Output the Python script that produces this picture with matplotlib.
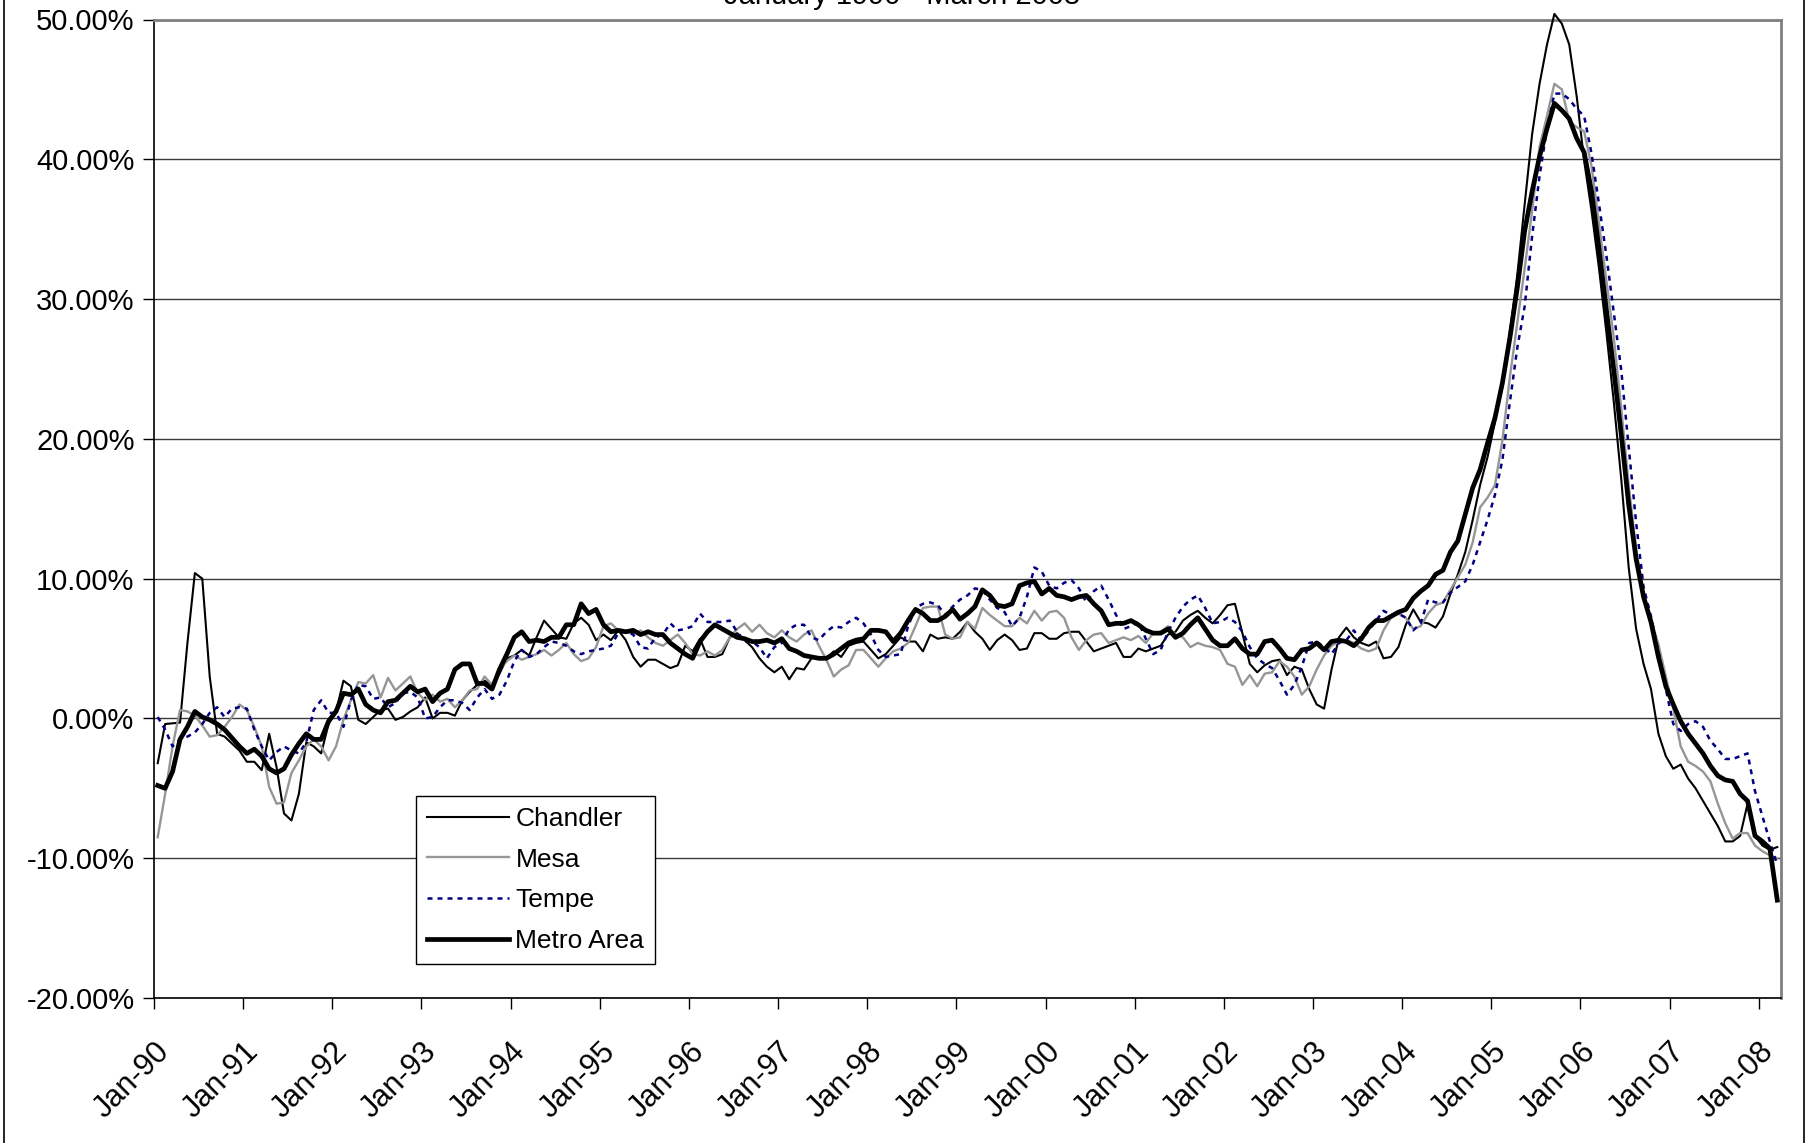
import numpy as np
import matplotlib
matplotlib.use("Agg")
import matplotlib.pyplot as plt
from matplotlib.lines import Line2D
from matplotlib.ticker import FuncFormatter, MultipleLocator

plt.rcParams['font.family'] = ['Liberation Sans', 'DejaVu Sans']

# Year-over-year change (%), monthly, January 1990 - March 2008
chandler = [
    -3.2, -0.4, -0.35, -0.3, 5.4, 10.4, 10.0, 3.0, -1.1, -1.3, -1.8, -2.3,   # 1990
    -3.1, -3.1, -3.7, -1.1, -3.5, -6.8, -7.3, -5.4, -1.7, -2.0, -2.5, -0.4,  # 1991
    0.5, 2.7, 2.3, -0.1, -0.4, 0.1, 0.6, 0.7, -0.1, 0.1, 0.5, 0.8,           # 1992
    1.5, 0.0, 0.4, 0.4, 0.2, 1.3, 1.9, 2.4, 2.7, 2.4, 3.2, 4.3,              # 1993
    4.5, 4.9, 4.5, 5.8, 7.0, 6.4, 5.8, 5.7, 6.8, 7.2, 6.7, 5.6,              # 1994
    6.0, 5.6, 6.3, 5.6, 4.4, 3.7, 4.2, 4.2, 3.9, 3.6, 3.8, 5.2,              # 1995
    4.8, 5.7, 4.4, 4.4, 4.6, 5.8, 6.1, 5.6, 5.1, 4.3, 3.7, 3.3,              # 1996
    3.7, 2.8, 3.6, 3.5, 4.3, 4.4, 4.3, 4.8, 4.4, 5.2, 5.4, 5.5,              # 1997
    4.9, 4.3, 4.6, 5.2, 5.8, 5.5, 5.5, 4.8, 6.0, 5.7, 5.8, 5.7,              # 1998
    6.2, 6.9, 6.2, 5.7, 4.9, 5.6, 6.0, 5.6, 4.9, 5.0, 6.1, 6.1,              # 1999
    5.7, 5.7, 6.1, 6.2, 6.2, 5.5, 4.8, 5.0, 5.2, 5.4, 4.4, 4.4,              # 2000
    5.0, 4.8, 5.0, 5.2, 6.0, 6.2, 7.0, 7.4, 7.7, 7.2, 6.8, 7.4,              # 2001
    8.1, 8.2, 6.1, 3.9, 3.3, 3.8, 4.1, 4.2, 3.1, 3.7, 3.5, 2.1,              # 2002
    1.0, 0.7, 3.5, 5.8, 6.5, 5.8, 5.4, 5.2, 5.5, 4.3, 4.4, 5.1,              # 2003
    6.7, 7.8, 6.9, 6.8, 6.5, 7.3, 8.9, 10.3, 11.9, 14.2, 16.7, 18.7,         # 2004
    21.2, 24.2, 27.6, 31.7, 36.8, 41.8, 45.4, 48.2, 50.4, 49.7, 48.2, 44.5,  # 2005
    39.9, 36.3, 32.2, 27.6, 22.6, 17.1, 10.8, 6.4, 3.9, 2.1, -1.1, -2.7,     # 2006
    -3.6, -3.3, -4.3, -5.0, -5.9, -6.8, -7.7, -8.8, -8.8, -8.4, -6.1, -8.4,  # 2007
    -9.1, -9.4, -9.2,                                                        # 2008
]

mesa = [
    -8.5, -5.4, -2.0, 0.6, 0.5, 0.2, -0.5, -1.3, -1.2, -0.6, 0.1, 1.0,
    0.6, -0.6, -2.0, -4.9, -6.1, -6.0, -3.9, -3.0, -2.0, -1.5, -2.0, -3.0,
    -2.0, -0.1, 1.3, 2.6, 2.5, 3.1, 1.5, 2.9, 2.0, 2.5, 3.0, 1.8,
    1.3, 1.7, 1.2, 1.4, 0.8, 1.3, 2.0, 2.1, 3.0, 2.4, 3.5, 4.1,
    4.5, 4.2, 4.4, 4.6, 4.9, 4.5, 4.9, 5.4, 4.6, 4.1, 4.3, 5.1,
    6.6, 6.8, 6.3, 6.2, 6.1, 6.3, 5.8, 5.4, 5.2, 5.6, 6.0, 5.4,
    4.6, 4.5, 4.8, 4.5, 4.9, 5.8, 6.4, 6.8, 6.2, 6.7, 6.1, 5.8,
    6.3, 5.8, 5.5, 6.0, 6.3, 5.2, 4.2, 3.0, 3.5, 3.8, 4.9, 4.9,
    4.3, 3.7, 4.3, 4.8, 5.0, 5.4, 6.6, 7.9, 8.0, 8.0, 6.0, 5.7,
    5.8, 6.9, 6.4, 7.9, 7.4, 7.0, 6.6, 6.6, 7.2, 6.8, 7.7, 7.0,
    7.6, 7.7, 7.2, 5.8, 4.9, 5.6, 6.0, 6.1, 5.4, 5.6, 5.8, 5.6,
    5.9, 5.4, 6.1, 6.2, 6.6, 6.0, 5.8, 5.1, 5.4, 5.2, 5.1, 4.9,
    3.9, 3.7, 2.4, 3.1, 2.3, 3.2, 3.3, 4.1, 3.7, 3.0, 1.7, 2.3,
    3.5, 4.5, 5.2, 5.5, 5.6, 5.4, 5.0, 4.8, 5.0, 6.3, 7.2, 7.5,
    7.2, 6.4, 6.6, 7.5, 8.1, 8.3, 9.2, 10.1, 11.0, 12.6, 15.1, 15.8,
    16.7, 19.9, 24.4, 28.3, 32.2, 36.3, 40.9, 43.1, 45.4, 45.0, 42.7, 42.3,
    42.0, 39.5, 35.4, 31.3, 27.2, 22.2, 16.7, 12.1, 8.9, 7.1, 5.3, 3.0,
    0.7, -2.0, -3.1, -3.4, -3.8, -4.5, -6.1, -7.5, -8.6, -8.2, -8.2, -9.1,
    -9.5, -9.8, -10.0,
]

tempe = [
    0.1, -0.8, -2.0, -1.5, -1.3, -1.0, -0.4, 0.4, 0.8, 0.1, 0.7, 0.8,
    0.7, -0.8, -2.0, -3.0, -2.4, -2.0, -2.3, -2.5, -1.7, 0.6, 1.3, 0.4,
    0.4, -0.6, 1.3, 2.4, 2.3, 1.4, 1.5, 0.8, 1.1, 1.8, 1.9, 1.5,
    0.0, 0.1, 0.8, 1.3, 1.3, 1.1, 0.6, 1.5, 2.1, 1.4, 1.7, 2.7,
    4.1, 4.9, 4.4, 4.6, 5.1, 5.5, 5.4, 5.2, 4.8, 4.6, 4.8, 4.9,
    5.0, 5.2, 6.1, 6.2, 6.0, 5.1, 5.0, 5.8, 6.0, 6.8, 6.3, 6.4,
    6.6, 7.5, 6.9, 6.9, 6.9, 7.0, 6.2, 5.5, 5.5, 5.1, 4.3, 5.1,
    5.4, 6.4, 6.7, 6.7, 5.8, 5.6, 6.2, 6.6, 6.5, 6.9, 7.2, 6.8,
    6.0, 4.9, 4.4, 4.5, 4.6, 6.6, 7.9, 8.2, 8.3, 8.1, 7.4, 8.0,
    8.5, 8.8, 9.3, 9.2, 8.5, 7.9, 7.6, 6.6, 7.2, 8.7, 10.8, 10.5,
    9.5, 9.3, 9.7, 9.9, 9.3, 8.3, 9.1, 9.5, 8.5, 7.4, 6.4, 6.6,
    6.9, 5.7, 4.6, 4.9, 6.2, 7.2, 8.0, 8.5, 8.8, 7.9, 6.8, 6.9,
    7.2, 6.9, 6.2, 5.1, 4.3, 3.9, 3.6, 2.7, 1.7, 2.4, 3.7, 5.4,
    5.5, 5.1, 4.6, 5.4, 5.6, 6.3, 5.6, 6.3, 7.0, 7.7, 7.4, 7.5,
    7.2, 6.3, 6.8, 8.5, 8.3, 8.3, 9.0, 9.4, 9.8, 11.0, 12.6, 14.2,
    16.0, 18.5, 22.6, 26.5, 29.5, 34.5, 38.8, 42.2, 44.7, 44.7, 44.3, 43.6,
    43.1, 40.4, 36.8, 33.1, 29.0, 24.9, 19.4, 14.0, 9.4, 7.3, 4.8, 2.1,
    -0.4, -0.9, -0.4, -0.2, -0.6, -1.6, -2.2, -2.9, -2.9, -2.7, -2.5, -5.2,
    -7.0, -8.8, -10.5,
]

metro = [
    -4.8, -5.0, -3.8, -1.5, -0.6, 0.5, 0.1, -0.1, -0.4, -0.8, -1.4, -2.0,
    -2.5, -2.2, -2.7, -3.6, -3.9, -3.6, -2.6, -1.8, -1.1, -1.5, -1.5, -0.2,
    0.5, 1.8, 1.7, 2.1, 1.0, 0.6, 0.4, 1.2, 1.3, 1.8, 2.3, 1.9,
    2.1, 1.2, 1.8, 2.1, 3.5, 3.9, 3.9, 2.5, 2.5, 2.1, 3.5, 4.6,
    5.8, 6.2, 5.5, 5.6, 5.5, 5.8, 5.8, 6.7, 6.7, 8.2, 7.5, 7.8,
    6.7, 6.2, 6.3, 6.2, 6.3, 6.0, 6.2, 6.0, 6.0, 5.4, 5.0, 4.6,
    4.3, 5.5, 6.2, 6.7, 6.4, 6.1, 5.8, 5.7, 5.5, 5.5, 5.6, 5.4,
    5.7, 5.0, 4.8, 4.5, 4.4, 4.3, 4.3, 4.6, 5.0, 5.4, 5.6, 5.7,
    6.3, 6.3, 6.2, 5.5, 6.1, 7.0, 7.8, 7.5, 7.0, 7.0, 7.3, 7.8,
    7.1, 7.5, 8.0, 9.2, 8.8, 8.1, 8.0, 8.2, 9.5, 9.7, 9.8, 8.9,
    9.3, 8.8, 8.7, 8.5, 8.7, 8.8, 8.2, 7.7, 6.7, 6.8, 6.8, 7.0,
    6.7, 6.3, 6.1, 6.1, 6.4, 5.8, 6.1, 6.7, 7.2, 6.4, 5.6, 5.2,
    5.2, 5.7, 5.0, 4.6, 4.6, 5.5, 5.6, 5.0, 4.3, 4.2, 4.9, 5.0,
    5.4, 4.9, 5.5, 5.6, 5.5, 5.2, 5.7, 6.5, 7.0, 7.0, 7.3, 7.6,
    7.8, 8.6, 9.1, 9.5, 10.3, 10.6, 11.9, 12.7, 14.6, 16.5, 17.8, 19.7,
    21.5, 24.0, 27.2, 30.8, 34.9, 37.7, 40.2, 42.2, 44.0, 43.5, 42.9, 41.5,
    40.5, 37.7, 33.6, 29.2, 24.9, 20.3, 15.3, 11.4, 8.7, 6.9, 4.4, 2.3,
    1.0, -0.2, -1.1, -1.8, -2.5, -3.4, -4.1, -4.4, -4.5, -5.4, -5.9, -8.4,
    -8.8, -9.3, -13.0,
]

year_labels = ["Jan-90", "Jan-91", "Jan-92", "Jan-93", "Jan-94", "Jan-95",
               "Jan-96", "Jan-97", "Jan-98", "Jan-99", "Jan-00", "Jan-01",
               "Jan-02", "Jan-03", "Jan-04", "Jan-05", "Jan-06", "Jan-07",
               "Jan-08"]

series_names = ["Chandler", "Mesa", "Tempe", "Metro Area"]

n_months = len(metro)
x = np.arange(n_months) + 0.5   # each month sits in the middle of its slot

W, H = 1805, 1143
fig = plt.figure(figsize=(W / 100, H / 100), dpi=100)
fig.patch.set_facecolor("white")

# plot area in pixel coordinates
left, right, top, bottom = 154, 1781, 19.5, 998
ax = fig.add_axes([left / W, 1 - bottom / H, (right - left) / W, (bottom - top) / H])

ax.plot(x, chandler, color="black", lw=1.5, label=series_names[0], clip_on=False, zorder=3)
ax.plot(x, mesa, color="#969696", lw=1.7, label=series_names[1], clip_on=False, zorder=3)
ax.plot(x, tempe, color="#000080", lw=1.8, linestyle=(0, (2.0, 2.0)),
        label=series_names[2], clip_on=False, zorder=3)
ax.plot(x, metro, color="black", lw=3.4, label=series_names[3], clip_on=False, zorder=4)

ax.set_xlim(0, n_months)
ax.set_ylim(-20, 50)

ax.yaxis.set_major_locator(MultipleLocator(10))
ax.yaxis.set_major_formatter(FuncFormatter(lambda v, p: f"{v:.2f}%"))
ax.grid(axis="y", color="#3a3a3a", lw=1.0)
ax.set_axisbelow(True)

ax.set_xticks(np.arange(0, n_months, 12))
ax.set_xticklabels(year_labels, rotation=45, ha="right", va="top",
                   rotation_mode="anchor")

ax.tick_params(axis="both", direction="out", length=8, width=1, colors="black")
ax.tick_params(axis="x", pad=20, labelsize=22)
ax.tick_params(axis="y", pad=6, labelsize=21)

for side in ("left", "bottom"):
    ax.spines[side].set_color("black")
    ax.spines[side].set_linewidth(1.2)
for side in ("top", "right"):
    ax.spines[side].set_color("#808080")
    ax.spines[side].set_linewidth(2)

leg = ax.legend(loc="upper left", bbox_to_anchor=(416 / W, 1 - 796 / H),
                bbox_transform=fig.transFigure, fontsize=19, frameon=True,
                fancybox=False, shadow=False, borderaxespad=0,
                handlelength=3.1, handletextpad=0.25, labelspacing=0.63,
                borderpad=0.42)
leg.get_frame().set_edgecolor("black")
leg.get_frame().set_linewidth(1.0)
leg.get_frame().set_alpha(1)

# title (the top of the chart area is cut off)
fig.text(0.5, 1 - 3.5 / H, "January 1990 - March 2008", ha="center", va="baseline",
         fontsize=21)

# chart-area border on the left and right
fig.add_artist(Line2D([4.0 / W, 4.0 / W], [0, 1], color="black", lw=1.2,
                      transform=fig.transFigure))
fig.add_artist(Line2D([1803.5 / W, 1803.5 / W], [0, 1], color="black", lw=1.2,
                      transform=fig.transFigure))

fig.savefig("out.png", dpi=100)
